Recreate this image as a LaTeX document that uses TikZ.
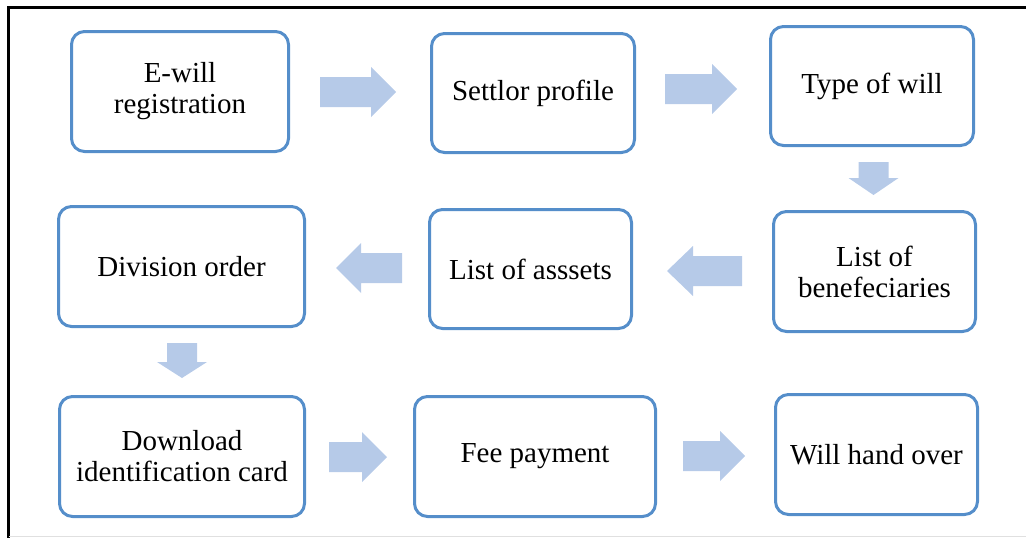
\documentclass[tikz,border=0pt]{standalone}
\usepackage{fontspec}
\setmainfont{Liberation Serif}
\begin{document}
\begin{tikzpicture}[x=1pt,y=-1pt,
  stepbox/.style={draw=boxblue, line width=3pt, rounded corners=13pt, fill=white,
    align=center, inner sep=2pt, font=\fontsize{29}{31}\selectfont},
  % block arrow pointing along +x: #1 = total length, #2 = head length
  pics/blockarr/.style 2 args={code={
    \fill[arrowblue] (-#1/2,-15) -- (#1/2-#2,-15) -- (#1/2-#2,-25) -- (#1/2,0)
      -- (#1/2-#2,25) -- (#1/2-#2,15) -- (-#1/2,15) -- cycle;
  }},
]
\definecolor{boxblue}{HTML}{558ECA}
\definecolor{arrowblue}{HTML}{B6CAE8}
\useasboundingbox (0,0) rectangle (1026,538);
% outer frame
\draw[line width=2.5pt] (8.5,538) -- (8.5,7.5) -- (1026,7.5);
\draw[line width=1pt, black!12] (8.5,536) -- (1026,536);

% process steps
\node[stepbox, minimum width=217pt, minimum height=120pt] (reg) at (180,91.5) {E-will\\registration};
\node[stepbox, minimum width=203pt, minimum height=119pt] (settlor) at (533,93) {Settlor profile};
\node[stepbox, minimum width=203pt, minimum height=119pt] (type) at (872,86) {Type of will};
\node[stepbox, minimum width=202pt, minimum height=120pt] (benef) at (874.5,271.5) {List of\\benefeciaries};
\node[stepbox, minimum width=202pt, minimum height=119pt] (assets) at (530.5,269) {List of asssets};
\node[stepbox, minimum width=246pt, minimum height=120pt] (division) at (181.5,266.5) {Division order};
\node[stepbox, minimum width=245pt, minimum height=120pt] (download) at (182,456.5) {Download\\identification card};
\node[stepbox, minimum width=241pt, minimum height=120pt] (fee) at (535,456.5) {Fee payment};
\node[stepbox, minimum width=202pt, minimum height=120pt] (handover) at (876.5,454.5) {Will hand over};

% block arrows between the steps
\pic at (358,92) {blockarr={76}{25}};
\pic at (701,89) {blockarr={72}{25}};
\pic[rotate=-90] at (873.5,178.5) {blockarr={33}{17}};
\pic[rotate=180] at (704.5,271) {blockarr={75}{26}};
\pic[rotate=180] at (369,268) {blockarr={66}{25}};
\pic[rotate=-90] at (182,360.5) {blockarr={35}{16}};
\pic at (358,457) {blockarr={58}{25}};
\pic at (714,456) {blockarr={62}{25}};
\end{tikzpicture}
\end{document}
